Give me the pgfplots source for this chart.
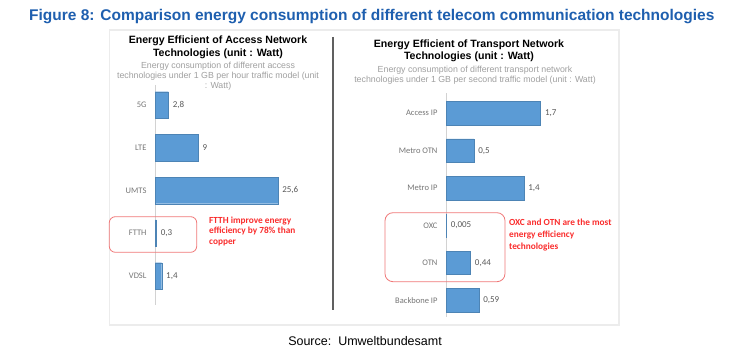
\documentclass[border=0pt]{standalone}
\usepackage{pgfplots}
\pgfplotsset{compat=1.18}
\usepackage{pgfplotstable}
\usepackage{fontspec}
\setmainfont{Liberation Sans}
\newfontfamily\calfont{Carlito}
\definecolor{barblue}{RGB}{91,155,213}
\definecolor{titleblue}{RGB}{30,95,175}
\definecolor{annred}{RGB}{250,45,45}
\definecolor{boxred}{RGB}{240,120,120}
\definecolor{ticktext}{RGB}{118,118,118}
\definecolor{valtext}{RGB}{89,89,89}
\definecolor{subgray}{RGB}{160,160,160}

\pgfplotstableread{
y x lab
0 2.8 2,8
1 9 9
2 25.6 25,6
3 0.3 0,3
4 1.4 1,4
}\accessdata

\pgfplotstableread{
y x lab
0 1.7 1,7
1 0.5 0,5
2 1.4 1,4
3 0.005 0,005
4 0.44 0,44
5 0.59 0,59
}\transportdata

\pgfplotsset{
  panel/.style={
    axis x line=none,
    axis y line*=left,
    y axis line style={draw=gray!35, line width=0.8pt},
    y dir=reverse,
    xmin=0,
    major tick length=0pt,
    yticklabel style={font=\calfont\fontsize{8.5}{10}\selectfont, text=ticktext, xshift=-5pt},
    clip=false,
  },
  hbar/.style={
    xbar, fill=barblue, draw=barblue!85!black, line width=0.3pt,
    nodes near coords, point meta=explicit symbolic,
    nodes near coords style={font=\calfont\fontsize{9}{10}\selectfont, text=valtext, anchor=west, xshift=1pt},
  },
}

\begin{document}
\begin{tikzpicture}[x=1pt,y=1pt]
\path[fill=white] (0,0) rectangle (740,353);
% panel frame and divider
\draw[gray!15, line width=1.5pt] (109.5,323) rectangle (619,28);
\draw[gray!75!black, line width=2.2pt] (333,316) -- (333,43);

% main title
\node[anchor=base west, font=\fontsize{15.5}{17}\selectfont\bfseries, text=titleblue, inner sep=0] at (29,332) {Figure 8: Comparison energy consumption of different telecom communication technologies};

% left panel titles
\node[align=center, font=\bfseries\fontsize{10.6}{12.7}\selectfont, anchor=north, inner sep=0] at (218,317.5) {Energy Efficient of Access Network\\Technologies (unit : Watt)};
\node[align=center, font=\fontsize{8.8}{10}\selectfont, text=subgray, anchor=north, inner sep=0] at (218,291.5) {Energy consumption of different access\\technologies under 1 GB per hour traffic model (unit\\: Watt)};

% right panel titles
\node[align=center, font=\bfseries\fontsize{10.6}{12.7}\selectfont, anchor=north, inner sep=0] at (469,313.6) {Energy Efficient of Transport Network\\Technologies (unit : Watt)};
\node[align=center, font=\fontsize{8.8}{10.6}\selectfont, text=subgray, anchor=north, inner sep=0] at (475,287.3) {Energy consumption of different transport network\\technologies under 1 GB per second traffic model (unit : Watt)};

% left axis
\begin{axis}[panel, at={(155pt,268.1pt)}, anchor=north west,
  x=4.8pt, y=42.75pt, xmax=36, ymin=-0.47, ymax=4.68,
  ytick={0,1,2,3,4}, yticklabels={5G,LTE,UMTS,FTTH,VDSL}]
\addplot[hbar, bar width=26.5pt] table[x=x, y=y, meta=lab] {\accessdata};
\end{axis}

% right axis
\begin{axis}[panel, at={(446pt,259.9pt)}, anchor=north west,
  x=55.6pt, y=37.4pt, xmax=3.05, ymin=-0.54, ymax=5.45,
  ytick={0,1,2,3,4,5}, yticklabels={Access IP,Metro OTN,Metro IP,OXC,OTN,Backbone IP}]
\addplot[hbar, bar width=23.5pt] table[x=x, y=y, meta=lab] {\transportdata};
\end{axis}

% annotations
\draw[boxred, line width=0.8pt, rounded corners=6pt] (109.3,136.3) rectangle (196.7,100.7);
\node[anchor=north west, align=left, font=\calfont\bfseries\fontsize{9.3}{10.5}\selectfont, text=annred, inner sep=0] at (209,136.5) {FTTH improve energy\\efficiency by 78\% than\\copper};
\draw[boxred, line width=0.8pt, rounded corners=8pt] (385,140.3) rectangle (505,71.3);
\node[anchor=north west, align=left, font=\calfont\bfseries\fontsize{9.3}{11.7}\selectfont, text=annred, inner sep=0] at (509,134) {OXC and OTN are the most\\energy efficiency\\technologies};

% source
\node[anchor=base east, font=\fontsize{12.5}{14}\selectfont, inner sep=0] at (442,7) {Source:\ \ Umweltbundesamt};
\end{tikzpicture}
\end{document}
